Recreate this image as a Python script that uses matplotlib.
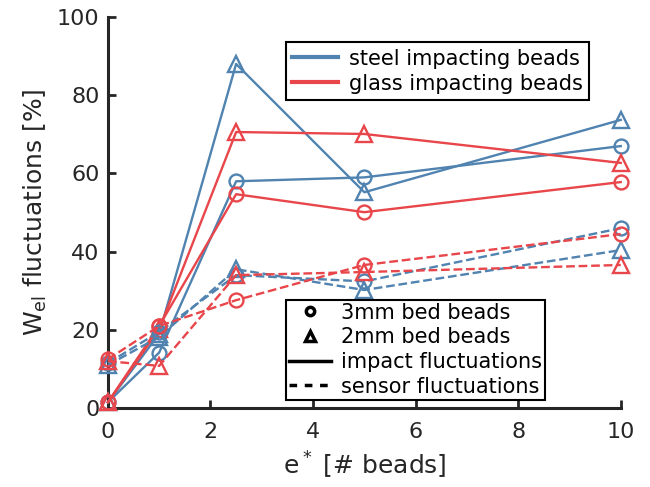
import matplotlib
matplotlib.use('Agg')
import matplotlib.pyplot as plt
from matplotlib.lines import Line2D

# e* values (# beads)
e_star = [0, 1, 2.5, 5, 10]

# impact fluctuations (solid)
steel_impact_3mm = [1.5, 14.2, 58.0, 59.0, 67.0]
steel_impact_2mm = [1.5, 19.0, 88.0, 55.2, 73.7]
glass_impact_3mm = [1.5, 21.0, 54.7, 50.1, 57.8]
glass_impact_2mm = [1.5, 20.2, 70.6, 70.1, 62.7]

# sensor fluctuations (dashed)
steel_sensor_3mm = [11.5, 19.5, 34.0, 32.4, 46.0]
steel_sensor_2mm = [11.0, 18.2, 35.5, 30.2, 40.4]
glass_sensor_3mm = [12.5, 21.0, 27.6, 36.6, 44.5]
glass_sensor_2mm = [12.0, 10.8, 34.0, 34.8, 36.6]

blue = '#5083b0'
red = '#e8464a'
dark = '#262626'

fig = plt.figure(figsize=(6.5, 4.87), dpi=100)
ax = fig.add_axes([0.166, 0.162, 0.789, 0.803])

series = [
    (steel_impact_3mm, blue, 'o', '-'),
    (steel_impact_2mm, blue, '^', '-'),
    (glass_impact_3mm, red, 'o', '-'),
    (glass_impact_2mm, red, '^', '-'),
    (steel_sensor_3mm, blue, 'o', '--'),
    (steel_sensor_2mm, blue, '^', '--'),
    (glass_sensor_3mm, red, 'o', '--'),
    (glass_sensor_2mm, red, '^', '--'),
]
for vals, col, mk, ls in series:
    ax.plot(e_star, vals, color=col, linestyle=ls, lw=1.7, marker=mk,
            markersize=10 if mk == 'o' else 11, markerfacecolor='none',
            markeredgewidth=1.7, clip_on=False, zorder=3)

ax.set_xlim(0, 10)
ax.set_ylim(0, 100)
ax.set_xticks([0, 2, 4, 6, 8, 10])
ax.set_yticks([0, 20, 40, 60, 80, 100])
for s in ['top', 'right']:
    ax.spines[s].set_visible(False)
for s in ['left', 'bottom']:
    ax.spines[s].set_linewidth(2.2)
    ax.spines[s].set_color(dark)
ax.tick_params(direction='in', length=6, width=2, colors=dark, labelsize=16)
ax.tick_params(axis='x', pad=10)
ax.tick_params(axis='y', pad=6)
ax.set_xlabel(r'e$^*$ [# beads]', fontsize=18, color=dark, labelpad=6)
ax.set_ylabel(r'W$_{\rm el}$ fluctuations [%]', fontsize=18, color=dark, labelpad=6)

h1 = [Line2D([], [], color=blue, lw=3), Line2D([], [], color=red, lw=3)]
leg1 = ax.legend(h1, ['steel impacting beads', 'glass impacting beads'],
                 loc='upper left', bbox_to_anchor=(0.327, 0.962), fontsize=15,
                 fancybox=False, edgecolor='black', framealpha=1,
                 handlelength=2.2, handletextpad=0.5, borderpad=0.3,
                 labelspacing=0.25)
leg1.get_frame().set_linewidth(1.5)
ax.add_artist(leg1)

h2 = [Line2D([], [], color='black', ls='none', marker='o', markersize=6,
             markerfacecolor='none', markeredgewidth=2.5),
      Line2D([], [], color='black', ls='none', marker='^', markersize=7,
             markerfacecolor='none', markeredgewidth=2.5),
      Line2D([], [], color='black', lw=2.5, ls='-'),
      Line2D([], [], color='black', lw=2.5, ls=(0, (2.2, 2.2)))]
leg2 = ax.legend(h2, ['3mm bed beads', '2mm bed beads', 'impact fluctuations',
                      'sensor fluctuations'],
                 loc='lower left', bbox_to_anchor=(0.327, -0.005), fontsize=15,
                 fancybox=False, edgecolor='black', framealpha=1,
                 handlelength=2.0, handletextpad=0.5, borderpad=0.15,
                 labelspacing=0.22)
leg2.get_frame().set_linewidth(1.5)

fig.savefig('out.png', dpi=100)
